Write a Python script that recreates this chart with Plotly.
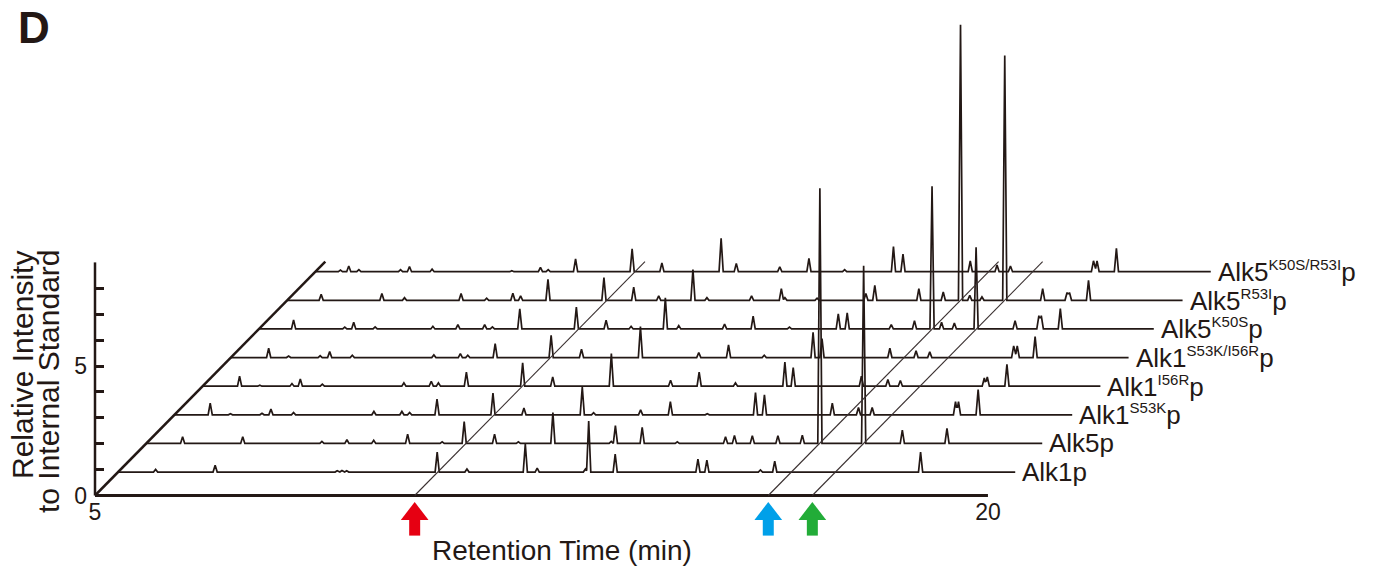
import plotly.graph_objects as go

# ---------------- data ----------------
# retention time (min) and relative intensity of the peaks of each chromatogram
SAMPLE_BASE = ["Alk1", "Alk5", "Alk1", "Alk1", "Alk1", "Alk5", "Alk5", "Alk5"]
SAMPLE_SUP = ["", "", "S53K", "I56R", "S53K/I56R", "K50S", "R53I", "K50S/R53I"]

RT_ALK1 = [5.63, 6.63, 8.68, 8.76, 8.84, 10.36, 10.86, 11.84, 12.04, 12.85, 12.905,
           13.35, 14.74, 14.89, 15.79, 16.03, 18.48]
H_ALK1 = [0.10, 0.26, 0.05, 0.06, 0.05, 0.77, 0.12, 1.08, 0.15, 0.12, 1.97,
          0.69, 0.50, 0.46, 0.08, 0.42, 0.77]

RT_ALK5 = [5.61, 6.62, 7.95, 8.37, 8.82, 9.39, 9.97, 10.34, 10.85, 11.25, 11.83, 12.81,
           12.88, 13.33, 13.92, 14.73, 14.88, 15.18, 15.61, 16.02, 16.315, 17.05, 17.70, 18.45]
H_ALK5 = [0.26, 0.26, 0.08, 0.14, 0.12, 0.36, 0.06, 0.84, 0.36, 0.06, 1.19, 0.08,
          0.69, 0.62, 0.06, 0.26, 0.31, 0.30, 0.30, 0.32, 9.85, 6.86, 0.51, 0.58]

RT_ALK1_S53K = [5.60, 5.94, 6.47, 6.62, 7.00, 8.35, 8.82, 8.95, 9.41, 10.35, 10.87, 11.85,
                12.04, 12.83, 13.33, 13.95, 14.76, 14.91, 16.05, 16.49, 16.72, 18.12, 18.17, 18.50]
H_ALK1_S53K = [0.45, 0.04, 0.06, 0.22, 0.09, 0.13, 0.13, 0.09, 0.61, 0.84, 0.26, 1.07,
               0.08, 0.19, 0.51, 0.04, 0.86, 0.77, 0.45, 0.28, 0.28, 0.51, 0.51, 0.97]

RT_ALK1_I56R = [5.62, 5.96, 6.50, 6.64, 7.01, 8.38, 8.84, 8.96, 9.43, 10.375, 10.88, 11.865,
                12.86, 13.34, 13.95, 14.78, 14.92, 16.065, 16.51, 16.72, 18.13, 18.18, 18.51]
H_ALK1_I56R = [0.39, 0.04, 0.10, 0.28, 0.08, 0.13, 0.19, 0.13, 0.54, 0.90, 0.36, 1.26,
               0.23, 0.54, 0.13, 0.93, 0.72, 0.39, 0.26, 0.22, 0.32, 0.36, 0.84]

RT_ALK1_DBL = [5.635, 5.97, 6.50, 6.66, 7.04, 8.41, 8.855, 8.98, 9.44, 10.38, 10.89, 11.88,
               12.86, 13.36, 13.96, 14.78, 14.93, 16.07, 16.51, 16.74, 18.15, 18.21, 18.51]
H_ALK1_DBL = [0.36, 0.06, 0.07, 0.23, 0.09, 0.10, 0.15, 0.09, 0.54, 0.86, 0.32, 1.20,
              0.19, 0.49, 0.09, 0.97, 0.73, 0.36, 0.26, 0.22, 0.45, 0.45, 0.81]

RT_ALK5_K50S = [5.58, 6.44, 6.59, 6.95, 7.92, 8.34, 8.79, 8.92, 9.38, 10.33, 10.83, 11.25,
                11.825, 12.05, 12.82, 13.30, 13.91, 14.73, 14.88, 15.62, 16.01, 16.305,
                16.465, 16.68, 17.045, 17.70, 18.10, 18.14, 18.46]
H_ALK5_K50S = [0.35, 0.07, 0.26, 0.08, 0.10, 0.17, 0.17, 0.08, 0.78, 0.84, 0.34, 0.10,
               1.20, 0.13, 0.19, 0.49, 0.07, 0.58, 0.62, 0.17, 0.32, 5.51,
               0.26, 0.23, 3.15, 0.32, 0.51, 0.51, 0.79]

RT_ALK5_R53I = [5.57, 6.59, 6.97, 7.92, 8.35, 8.79, 8.92, 9.38, 10.32, 10.82, 11.24, 11.815,
                12.05, 12.80, 13.30, 13.36, 13.90, 14.72, 14.87, 15.61, 16.02, 16.31,
                16.465, 16.67, 17.053, 17.69, 18.10, 18.14, 18.46]
H_ALK5_R53I = [0.23, 0.26, 0.10, 0.26, 0.08, 0.27, 0.17, 0.81, 0.88, 0.51, 0.17, 1.19,
               0.10, 0.17, 0.45, 0.10, 0.08, 0.26, 0.58, 0.45, 0.32, 10.64,
               0.19, 0.13, 9.45, 0.45, 0.30, 0.30, 0.77]

RT_ALK5_DBL = [5.42, 5.56, 5.73, 6.43, 6.58, 6.96, 8.30, 8.78, 8.91, 9.37, 10.32, 10.82,
               11.815, 12.07, 12.80, 13.29, 13.89, 14.71, 14.87, 16.00, 16.45, 16.675,
               18.07, 18.13, 18.455]
H_ALK5_DBL = [0.06, 0.22, 0.08, 0.08, 0.20, 0.10, 0.04, 0.17, 0.08, 0.49, 0.88, 0.34,
              1.29, 0.32, 0.19, 0.51, 0.08, 0.97, 0.68, 0.42, 0.26, 0.22,
              0.42, 0.42, 0.90]

RUN_START = 5.0
RUN_END = [20.07, 20.05, 20.08, 20.08, 20.08, 20.03, 20.04, 20.04]

ARROW_RT = [10.37, 16.31, 17.05]
ARROW_COLORS = ["#e60012", "#00a0e9", "#22ac38"]

X_TICKS = [5, 20]
Y_TICKS = [0, 1, 2, 3, 4, 5, 6, 7, 8]
Y_TICKTEXT = ["0", "", "", "", "", "5", "", "", ""]
Y_AXIS_TOP = 9

# ---------------- layout geometry ----------------
INK = "#231815"
FONT = "Liberation Sans, Arial, Helvetica, sans-serif"
OFF = 8                      # default page margin around the figure div
W, H = 1376 - 2 * OFF, 574 - 2 * OFF
# plot area in page pixels: left 40, right 1215, top 15, bottom 560
ML, MT = 40 - OFF, 15 - OFF
MR, MB = W - (1215 - OFF), H - (560 - OFF)
PW, PH = W - ML - MR, H - MT - MB
X_PX = 59.53          # pixels per minute
Y_PX = 25.9           # pixels per intensity unit
X0_PX, Y0_PX = 95, 495.5   # page position of the origin (5 min, 0)
X_RANGE = [5 - (X0_PX - OFF - ML) / X_PX, 5 + (ML + PW - (X0_PX - OFF)) / X_PX]
Y_RANGE = [-(MT + PH - (Y0_PX - OFF)) / Y_PX, (Y0_PX - OFF - MT) / Y_PX]

DEPTH_DX = 0.4735     # shift along retention time per stacked run
DEPTH_DY = 1.105      # shift along intensity per stacked run
DEPTH0 = 0.82
AXIS_DEPTH = 8.17
PEAK_W = 0.035


def paper_x(px):
    return (px - OFF - ML) / PW


def paper_y(py):
    return (MT + PH - (py - OFF)) / PH


def chromatogram(rts, hs, start, end):
    xs = {start, end}
    for r in rts:
        xs.update((r - PEAK_W, r, r + PEAK_W))
    xs = sorted(x for x in xs if start <= x <= end)
    ys = [sum(max(0.0, h * (1 - abs(x - r) / PEAK_W)) for r, h in zip(rts, hs)) for x in xs]
    return xs, ys


RUNS = [(RT_ALK1, H_ALK1), (RT_ALK5, H_ALK5), (RT_ALK1_S53K, H_ALK1_S53K),
        (RT_ALK1_I56R, H_ALK1_I56R), (RT_ALK1_DBL, H_ALK1_DBL), (RT_ALK5_K50S, H_ALK5_K50S),
        (RT_ALK5_R53I, H_ALK5_R53I), (RT_ALK5_DBL, H_ALK5_DBL)]

fig = go.Figure()

line_kw = dict(mode="lines", hoverinfo="skip", showlegend=False)

# floor / depth axis
fig.add_trace(go.Scatter(x=[5, 5 + AXIS_DEPTH * DEPTH_DX], y=[0, AXIS_DEPTH * DEPTH_DY],
                         line=dict(color=INK, width=2.5), **line_kw))
# retention-time axis line
fig.add_trace(go.Scatter(x=[X_TICKS[0], X_TICKS[-1]], y=[0, 0],
                         line=dict(color=INK, width=3), **line_kw))
# intensity axis line
fig.add_trace(go.Scatter(x=[5, 5], y=[0, Y_AXIS_TOP],
                         line=dict(color=INK, width=2.5), **line_kw))

# stacked chromatograms
for i, (rts, hs) in enumerate(RUNS):
    d = DEPTH0 + i
    xs, ys = chromatogram(rts, hs, RUN_START, RUN_END[i])
    fig.add_trace(go.Scatter(x=[x + d * DEPTH_DX for x in xs], y=[y + d * DEPTH_DY for y in ys],
                             line=dict(color=INK, width=1.7), **line_kw))
    base, sup = SAMPLE_BASE[i], SAMPLE_SUP[i]
    if sup:
        label = f'{base}<sup><span style="font-size:15px">{sup}</span></sup>p'
    else:
        label = f"{base}p"
    fig.add_annotation(x=RUN_END[i] + d * DEPTH_DX, y=d * DEPTH_DY, xref="x", yref="y",
                       text=label, showarrow=False, xanchor="left", yanchor="middle",
                       xshift=5, font=dict(family=FONT, size=26, color=INK))

# guide lines through the product peaks
for rt in ARROW_RT:
    fig.add_trace(go.Scatter(x=[rt, rt + AXIS_DEPTH * DEPTH_DX], y=[0, AXIS_DEPTH * DEPTH_DY],
                             line=dict(color="#3a3030", width=1.1), **line_kw))

# arrows under the axis
fig.add_trace(go.Scatter(x=ARROW_RT, y=[-(526.5 - Y0_PX) / Y_PX] * 3, mode="markers",
                         marker=dict(symbol="line-ns", size=13, color=ARROW_COLORS,
                                     line=dict(color=ARROW_COLORS, width=11)),
                         cliponaxis=False, hoverinfo="skip", showlegend=False))
fig.add_trace(go.Scatter(x=ARROW_RT, y=[-(514 - Y0_PX) / Y_PX] * 3, mode="markers",
                         marker=dict(symbol="triangle-up", size=24, color=ARROW_COLORS,
                                     line=dict(width=0)),
                         cliponaxis=False, hoverinfo="skip", showlegend=False))

# titles
fig.add_annotation(x=paper_x(562), y=paper_y(550), xref="paper", yref="paper",
                   text="Retention Time (min)", showarrow=False, xanchor="center", yanchor="middle",
                   font=dict(family=FONT, size=28, color=INK))
fig.add_annotation(x=paper_x(22), y=paper_y(249), xref="paper", yref="paper",
                   text="Relative Intensity", showarrow=False, textangle=-90,
                   xanchor="center", yanchor="top", font=dict(family=FONT, size=30, color=INK))
fig.add_annotation(x=paper_x(48), y=paper_y(247), xref="paper", yref="paper",
                   text="to Internal Standard", showarrow=False, textangle=-90,
                   xanchor="center", yanchor="top", font=dict(family=FONT, size=30, color=INK))
fig.add_annotation(x=paper_x(16), y=paper_y(28), xref="paper", yref="paper",
                   text="<b>D</b>", showarrow=False, xanchor="left", yanchor="middle",
                   font=dict(family=FONT, size=44, color=INK))

fig.update_layout(
    width=W, height=H, autosize=False,
    margin=dict(l=ML, r=MR, t=MT, b=MB, pad=0, autoexpand=False),
    paper_bgcolor="white", plot_bgcolor="white",
    showlegend=False,
    xaxis=dict(range=X_RANGE, anchor="free", position=paper_y(Y0_PX), showgrid=False,
               zeroline=False, showline=False, tickvals=X_TICKS, ticktext=[str(t) for t in X_TICKS],
               ticks="", automargin=False,
               tickfont=dict(family=FONT, size=23, color=INK), fixedrange=True),
    yaxis=dict(range=Y_RANGE, anchor="free", position=paper_x(X0_PX), showgrid=False,
               zeroline=False, showline=False, tickvals=Y_TICKS, ticktext=Y_TICKTEXT,
               ticks="inside", ticklen=8, tickwidth=2.5, tickcolor=INK, automargin=False,
               ticklabelstandoff=8,
               tickfont=dict(family=FONT, size=23, color=INK), fixedrange=True),
)

fig.write_html("out.html")
